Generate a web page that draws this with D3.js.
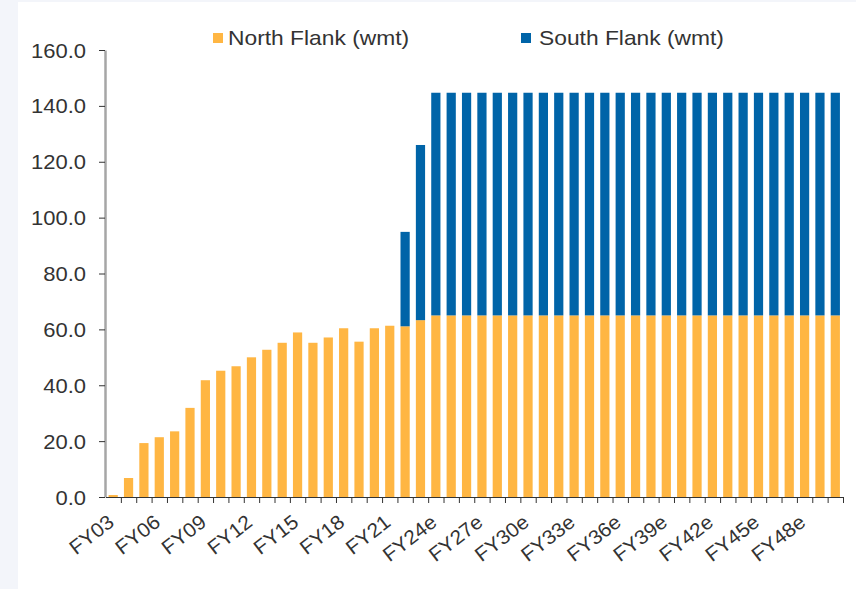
<!DOCTYPE html>
<html>
<head>
<meta charset="utf-8">
<script src="https://cdn.jsdelivr.net/npm/d3@7"></script>
<style>
  html, body { margin: 0; padding: 0; background: #F3F5FA; }
  svg { display: block; }
  text { font-family: "Liberation Sans", Arial, sans-serif; fill: #333; }
</style>
</head>
<body>
<svg id="chart" width="856" height="589"></svg>
<script>
const categories = [
  "FY03","FY04","FY05","FY06","FY07","FY08","FY09","FY10","FY11","FY12",
  "FY13","FY14","FY15","FY16","FY17","FY18","FY19","FY20","FY21","FY22","FY23",
  "FY24e","FY25e","FY26e","FY27e","FY28e","FY29e","FY30e","FY31e","FY32e","FY33e",
  "FY34e","FY35e","FY36e","FY37e","FY38e","FY39e","FY40e","FY41e","FY42e","FY43e",
  "FY44e","FY45e","FY46e","FY47e","FY48e","FY49e","FY50e"
];
const northFlank = [
  0.7, 6.8, 19.3, 21.4, 23.5, 31.9, 41.8, 45.2, 46.8, 50.0,
  52.7, 55.2, 58.9, 55.2, 57.1, 60.4, 55.6, 60.4, 61.3, 61.1, 63.3,
  65, 65, 65, 65, 65, 65, 65, 65, 65, 65,
  65, 65, 65, 65, 65, 65, 65, 65, 65, 65,
  65, 65, 65, 65, 65, 65, 65
];
const southFlank = [
  0, 0, 0, 0, 0, 0, 0, 0, 0, 0,
  0, 0, 0, 0, 0, 0, 0, 0, 0, 33.8, 62.7,
  79.7, 79.7, 79.7, 79.7, 79.7, 79.7, 79.7, 79.7, 79.7, 79.7,
  79.7, 79.7, 79.7, 79.7, 79.7, 79.7, 79.7, 79.7, 79.7, 79.7,
  79.7, 79.7, 79.7, 79.7, 79.7, 79.7, 79.7
];
const seriesNames = ["North Flank (wmt)", "South Flank (wmt)"];
const yTicks = [0, 20, 40, 60, 80, 100, 120, 140, 160];
const xTickLabels = ["FY03","FY06","FY09","FY12","FY15","FY18","FY21","FY24e","FY27e","FY30e","FY33e","FY36e","FY39e","FY42e","FY45e","FY48e"];

const colors = ["#FFB643", "#0064A8"];
const svg = d3.select("#chart");

// white panel
svg.append("rect").attr("x", 18).attr("y", 2).attr("width", 856 - 18).attr("height", 589 - 2).attr("fill", "#fff");

const x = d3.scaleBand().domain(categories).range([105.5, 843]).paddingInner(0.4).paddingOuter(0.2);
const y = d3.scaleLinear().domain([0, 160]).range([497, 50]);

const table = categories.map((c, i) => ({ cat: c, north: northFlank[i], south: southFlank[i] }));
const stack = d3.stack().keys(["north", "south"])(table);

svg.append("g").selectAll("g").data(stack).join("g")
  .attr("fill", (d, i) => colors[i])
  .selectAll("rect").data(d => d.filter(p => p[1] - p[0] > 0)).join("rect")
  .attr("x", d => x(d.data.cat))
  .attr("width", x.bandwidth())
  .attr("y", d => y(d[1]))
  .attr("height", d => y(d[0]) - y(d[1]));

// Y axis
const yAxis = svg.append("g").attr("transform", "translate(105,0)")
  .call(d3.axisLeft(y).tickValues(yTicks).tickFormat(d3.format(".1f")).tickSize(6).tickSizeOuter(0));
yAxis.select(".domain").attr("stroke", "#A6A6A6").attr("stroke-width", 2.5);
yAxis.selectAll(".tick line").attr("stroke", "#333");
yAxis.selectAll(".tick text")
  .attr("x", 0).attr("dy", "0.35em")
  .attr("transform", "translate(-19,0) scale(1.1,1)")
  .style("font-size", "20px").style("fill", "#333").attr("text-anchor", "end");

// X axis
const xBoundary = d3.scaleLinear().domain([0, categories.length]).range([105.5, 843]);
const xAxis = svg.append("g").attr("transform", "translate(0,497)")
  .call(d3.axisBottom(x).tickValues(xTickLabels).tickSize(0).tickSizeOuter(0));
xAxis.select(".domain").attr("stroke", "#333").attr("stroke-width", 1.2);
xAxis.selectAll(".tick text")
  .attr("x", 0).attr("y", 0).attr("dy", "0.35em")
  .attr("transform", "translate(-2,22) rotate(-38) scale(1.05,1)")
  .attr("text-anchor", "end")
  .style("font-size", "20px").style("fill", "#333");
// boundary ticks between categories
svg.append("g").attr("transform", "translate(0,497)")
  .call(d3.axisBottom(xBoundary).tickValues(d3.range(1, categories.length + 1)).tickSize(6).tickFormat(""))
  .call(g => g.select(".domain").remove())
  .selectAll(".tick line").attr("stroke", "#333");

// Legend
const legend = svg.append("g");
const legendPos = [{ sx: 213, tx: 228 }, { sx: 521, tx: 539 }];
seriesNames.forEach((name, i) => {
  legend.append("rect").attr("x", legendPos[i].sx).attr("y", 33).attr("width", 10).attr("height", 10).attr("fill", colors[i]);
  legend.append("text")
    .attr("transform", `translate(${legendPos[i].tx},38) scale(1.14,1)`)
    .attr("dy", "0.35em").style("font-size", "20px").style("fill", "#333").text(name);
});
</script>
</body>
</html>
